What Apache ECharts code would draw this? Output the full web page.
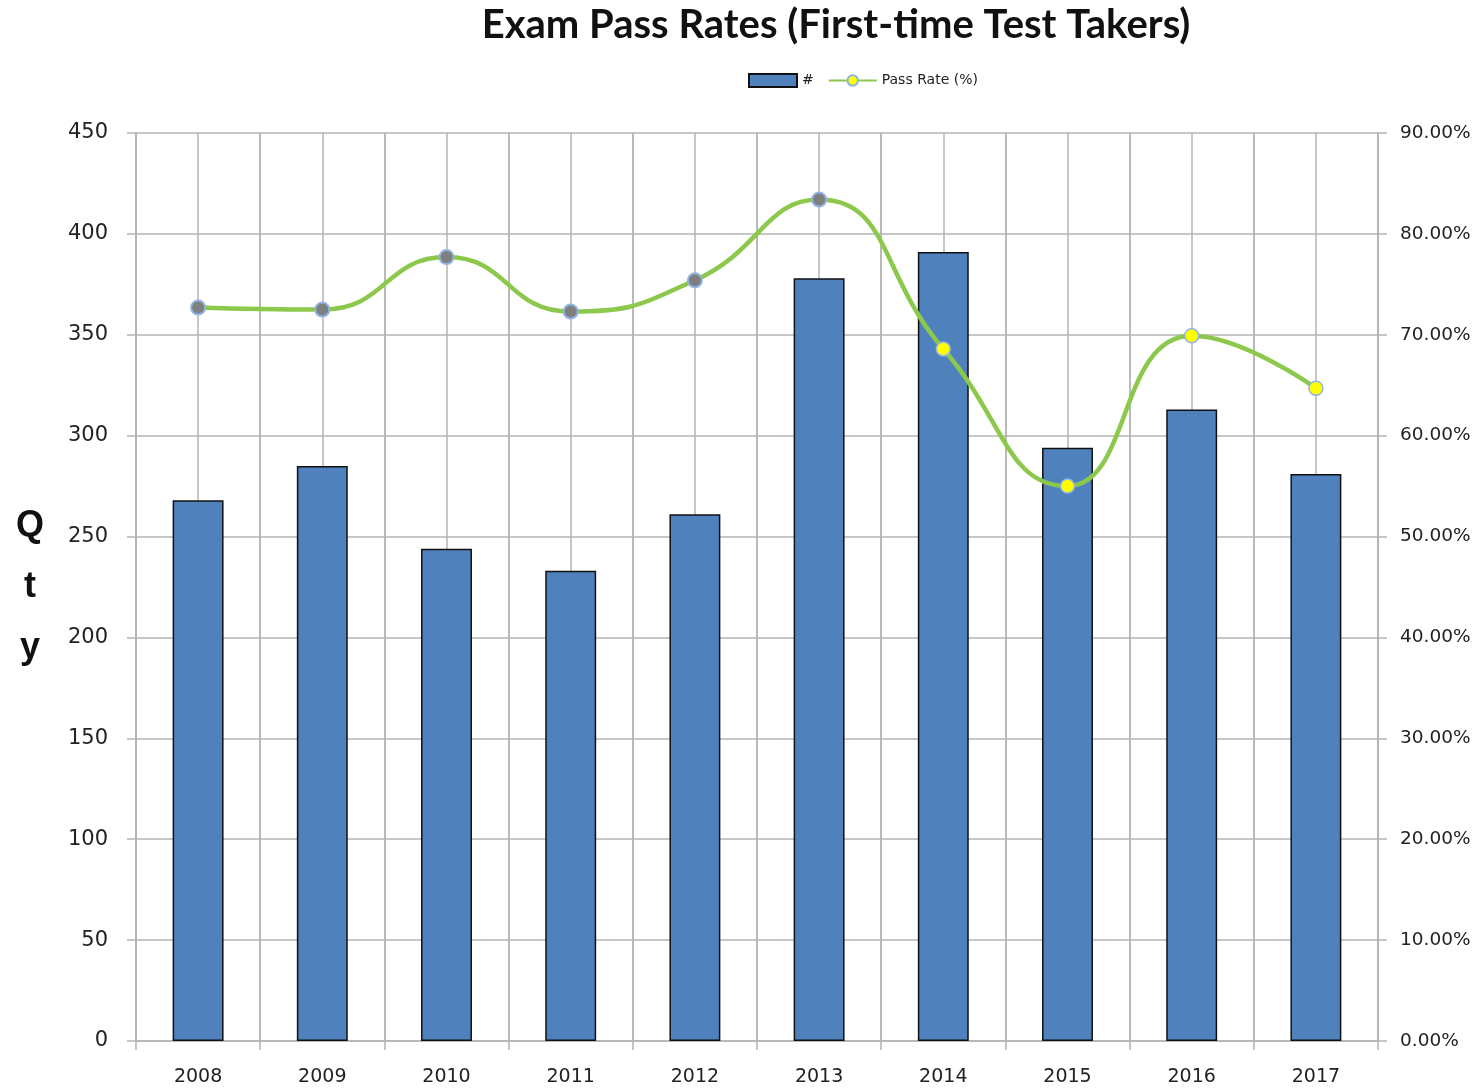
<!DOCTYPE html>
<html>
<head>
<meta charset="utf-8">
<script src="https://cdn.jsdelivr.net/npm/echarts@6/dist/echarts.min.js"></script>
<style>
  html, body { margin: 0; padding: 0; background: #fff; }
  #chart { width: 1481px; height: 1091px; }
</style>
</head>
<body>
<div id="chart"></div>
<script>
var years = ['2008', '2009', '2010', '2011', '2012', '2013', '2014', '2015', '2016', '2017'];
var qty = [268, 285, 244, 233, 261, 378, 391, 294, 313, 281];
var passRate = [72.7, 72.5, 77.7, 72.3, 75.4, 83.4, 68.6, 55.0, 69.9, 64.7];
// first six points drawn grey, last four yellow
var greyPoints = 6;

var gridColor = '#b4b4b4';
var chart = echarts.init(document.getElementById('chart'));

var rateData = passRate.map(function(v, i) {
    if (i < greyPoints) {
        return { value: v, itemStyle: { color: '#7f7f7f', borderColor: '#8fb4e3', borderWidth: 2 } };
    }
    return v;
});

var option = {
    animation: false,
    title: {
        text: 'Exam Pass Rates (First-time Test Takers)',
        left: 831,
        top: 0,
        textAlign: 'center',
        textStyle: { fontFamily: 'Lato', fontWeight: 'bold', fontSize: 40, color: '#111' }
    },
    legend: {
        top: 68,
        left: 743,
        itemGap: 14,
        itemWidth: 48,
        itemHeight: 13,
        textStyle: { fontFamily: 'DejaVu Sans', fontSize: 14, color: '#222' },
        data: [{ name: '#', icon: 'rect' }, 'Pass Rate (%)']
    },
    grid: { left: 136, right: 103, top: 133, bottom: 50 },
    xAxis: [{
        type: 'category',
        data: years,
        boundaryGap: true,
        axisLine: { lineStyle: { color: gridColor, width: 1.5 } },
        axisTick: { show: true, length: 9, lineStyle: { color: gridColor, width: 1.5 } },
        splitLine: { show: true, lineStyle: { color: gridColor, width: 1.5 } },
        axisLabel: { fontFamily: 'DejaVu Sans', fontSize: 19, color: '#222', margin: 27 }
    }, {
        type: 'value',
        min: 0,
        max: 20,
        interval: 1,
        show: true,
        position: 'top',
        axisLine: { show: false },
        axisTick: { show: false },
        axisLabel: { show: false },
        splitLine: { show: true, lineStyle: { color: gridColor, width: 1.5 } }
    }],
    yAxis: [{
        type: 'value',
        min: 0,
        max: 450,
        interval: 50,
        name: 'Q\nt\ny',
        nameLocation: 'middle',
        nameRotate: 0,
        nameGap: 106,
        nameTextStyle: {
            fontFamily: 'Liberation Sans', fontWeight: 'bold', fontSize: 36, lineHeight: 61,
            color: '#111', align: 'center', padding: [18, 0, 0, 0]
        },
        axisLine: { show: true, lineStyle: { color: gridColor, width: 1.5 } },
        axisTick: { show: true, length: 9, lineStyle: { color: gridColor, width: 1.5 } },
        splitLine: { show: true, lineStyle: { color: gridColor, width: 1.5 } },
        axisLabel: { fontFamily: 'DejaVu Sans', fontSize: 21, color: '#222', margin: 28 }
    }, {
        type: 'value',
        min: 0,
        max: 90,
        interval: 10,
        position: 'right',
        axisLine: { show: true, lineStyle: { color: gridColor, width: 1.5 } },
        axisTick: { show: true, length: 9, lineStyle: { color: gridColor, width: 1.5 } },
        splitLine: { show: false },
        axisLabel: {
            fontFamily: 'DejaVu Sans', fontSize: 18.5, color: '#222', margin: 22,
            formatter: function(v) { return v.toFixed(2) + '%'; }
        }
    }],
    series: [{
        name: '#',
        type: 'bar',
        xAxisIndex: 0,
        yAxisIndex: 0,
        data: qty,
        barWidth: '41%',
        itemStyle: { color: '#4f81bd', borderColor: '#111', borderWidth: 1.5 }
    }, {
        name: 'Pass Rate (%)',
        type: 'line',
        xAxisIndex: 0,
        yAxisIndex: 1,
        data: rateData,
        smooth: 0.5,
        symbol: 'circle',
        symbolSize: 14,
        lineStyle: { color: '#8cc84b', width: 4.5 },
        itemStyle: { color: '#ffff00', borderColor: '#8fb4e3', borderWidth: 1.5 },
        z: 5
    }]
};
chart.setOption(option);
</script>
</body>
</html>
